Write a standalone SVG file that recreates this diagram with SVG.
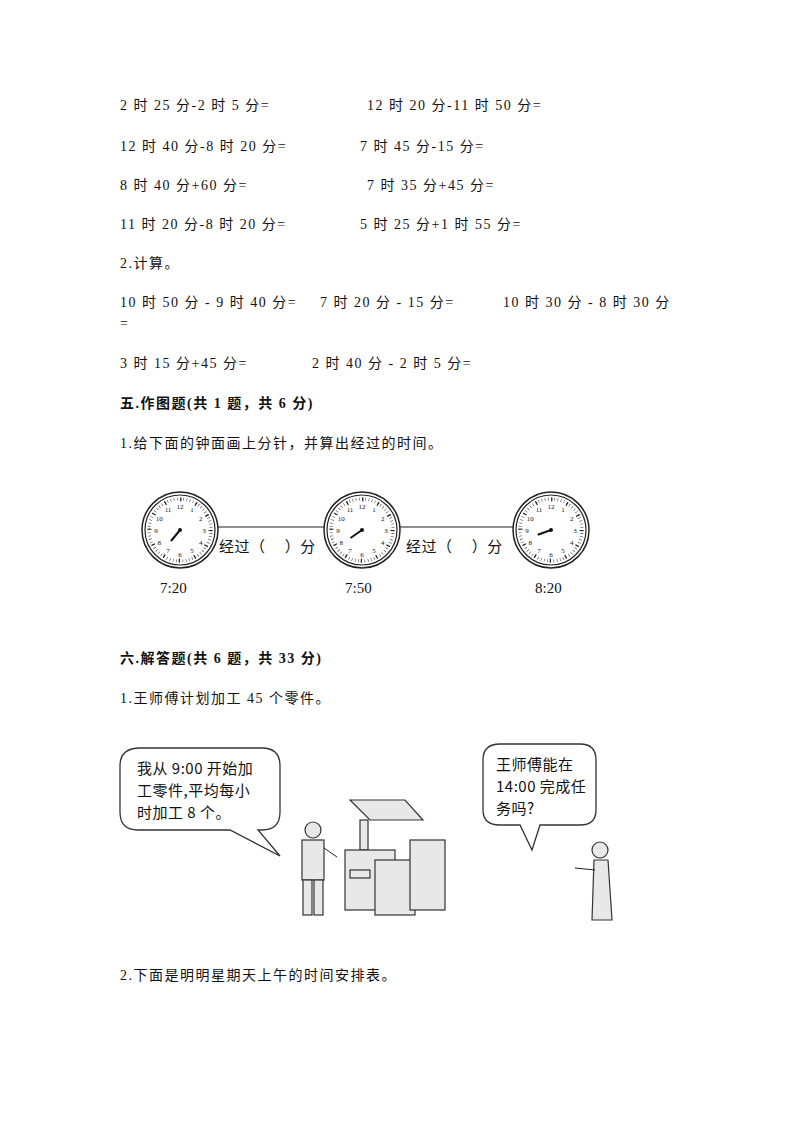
<svg xmlns="http://www.w3.org/2000/svg" width="794" height="1123" viewBox="0 0 794 1123">
<style>
text{font-family:"Liberation Serif","Noto Sans CJK SC",serif;font-size:14px;fill:#111;letter-spacing:1.5px}
.b{font-weight:bold}
.n{font-family:"Liberation Serif",serif;font-size:7px;text-anchor:middle;letter-spacing:0;fill:#111}
.s{font-family:"Noto Sans CJK SC",sans-serif;font-size:15px;letter-spacing:0.5px}
.ln{stroke:#222;stroke-width:1;fill:none}
.ill{fill:#e8e8e8;stroke:#333;stroke-width:1.2}
</style>
<defs>
<g id="clock">
<circle r="38" fill="#fff" stroke="#222" stroke-width="1.5"/>
<circle r="35" fill="none" stroke="#222" stroke-width="1.2"/>
<circle r="31" fill="none" stroke="#222" stroke-width="3" stroke-dasharray="0.5 2.746"/>
<circle r="30.5" fill="none" stroke="#222" stroke-width="4" stroke-dasharray="1.2 14.77"/>
<text class="n" x="12" y="-18.3">1</text><text class="n" x="20.8" y="-9.5">2</text><text class="n" x="24" y="2.5">3</text>
<text class="n" x="20.8" y="14.5">4</text><text class="n" x="12" y="23.3">5</text><text class="n" x="0" y="26.5">6</text>
<text class="n" x="-12" y="23.3">7</text><text class="n" x="-20.8" y="14.5">8</text><text class="n" x="-24" y="2.5">9</text>
<text class="n" x="-20.8" y="-9.5">10</text><text class="n" x="-12" y="-18.3">11</text><text class="n" x="0" y="-21.5">12</text>
<circle r="2" fill="#111"/>
</g>
</defs>
<rect width="794" height="1123" fill="#fff"/>
<g id="text">
<text x="120" y="110">2 时 25 分-2 时 5 分=</text><text x="367" y="110">12 时 20 分-11 时 50 分=</text>
<text x="120" y="151">12 时 40 分-8 时 20 分=</text><text x="360" y="151">7 时 45 分-15 分=</text>
<text x="120" y="190">8 时 40 分+60 分=</text><text x="367" y="190">7 时 35 分+45 分=</text>
<text x="120" y="229">11 时 20 分-8 时 20 分=</text><text x="360" y="229">5 时 25 分+1 时 55 分=</text>
<text x="120" y="268">2.计算。</text>
<text x="120" y="307">10 时 50 分 - 9 时 40 分=</text><text x="320" y="307">7 时 20 分 - 15 分=</text><text x="503" y="307">10 时 30 分 - 8 时 30 分</text>
<text x="120" y="328">=</text>
<text x="120" y="368">3 时 15 分+45 分=</text><text x="312" y="368">2 时 40 分 - 2 时 5 分=</text>
<text class="b" x="120" y="408">五.作图题(共 1 题，共 6 分)</text>
<text x="120" y="448">1.给下面的钟面画上分针，并算出经过的时间。</text>
<text class="b" x="120" y="663">六.解答题(共 6 题，共 33 分)</text>
<text x="120" y="703">1.王师傅计划加工 45 个零件。</text>
<text x="120" y="980">2.下面是明明星期天上午的时间安排表。</text>
</g>
<g id="connectors">
<line class="ln" x1="218" y1="527" x2="324" y2="527"/>
<line class="ln" x1="400" y1="527" x2="513" y2="527"/>
</g>
<g id="clock1"><use href="#clock" x="180" y="530"/><line x1="180" y1="530" x2="171" y2="541" stroke="#111" stroke-width="2"/><text x="160" y="593" style="font-size:15px;letter-spacing:0">7:20</text></g>
<g id="clock2"><use href="#clock" x="362" y="530"/><line x1="362" y1="530" x2="350.5" y2="538" stroke="#111" stroke-width="2"/><text x="345" y="593" style="font-size:15px;letter-spacing:0">7:50</text></g>
<g id="clock3"><use href="#clock" x="551" y="530"/><line x1="551" y1="530" x2="537.8" y2="534.8" stroke="#111" stroke-width="2"/><text x="535" y="593" style="font-size:15px;letter-spacing:0">8:20</text></g>
<text class="s" x="219" y="552">经过（　 ）分</text>
<text class="s" x="406" y="552">经过（　 ）分</text>
<g id="bubble1">
<path d="M140 748 H262 Q280 748 280 766 V812 Q280 830 262 830 H258 L280 856 L230 830 H138 Q120 830 120 812 V766 Q120 748 140 748 Z" fill="#fff" stroke="#333" stroke-width="1.3"/>
<text class="s" x="137" y="774">我从 9:00 开始加</text>
<text class="s" x="137" y="796">工零件,平均每小</text>
<text class="s" x="137" y="818">时加工 8 个。</text>
</g>
<g id="bubble2">
<path d="M500 744 H580 Q596 744 596 760 V810 Q596 825 580 825 H540 L532 850 L520 825 H500 Q483 825 483 810 V760 Q483 744 500 744 Z" fill="#fff" stroke="#333" stroke-width="1.3"/>
<text class="s" x="496" y="770">王师傅能在</text>
<text class="s" x="496" y="792">14:00 完成任</text>
<text class="s" x="496" y="814">务吗?</text>
</g>
<g id="worker">
<circle cx="313" cy="830" r="8" class="ill"/>
<rect x="302" y="840" width="22" height="40" class="ill"/>
<rect x="303" y="880" width="9" height="35" class="ill"/><rect x="314" y="880" width="9" height="35" class="ill"/>
<path d="M324 848 L337 857" class="ln" stroke-width="3"/>
</g>
<g id="machine">
<path d="M350 800 L405 800 L423 820 L370 820 Z" class="ill"/>
<rect x="360" y="820" width="8" height="30" class="ill"/>
<rect x="345" y="850" width="50" height="60" class="ill"/>
<rect x="375" y="860" width="40" height="55" class="ill"/>
<rect x="410" y="840" width="35" height="70" class="ill"/>
<rect x="350" y="870" width="20" height="8" class="ill"/>
</g>
<g id="woman">
<circle cx="600" cy="850" r="8" class="ill"/>
<path d="M594 860 L608 860 L612 920 L592 920 Z" class="ill"/>
<path d="M595 870 L575 868" class="ln" stroke-width="2"/>
</g>
</svg>
